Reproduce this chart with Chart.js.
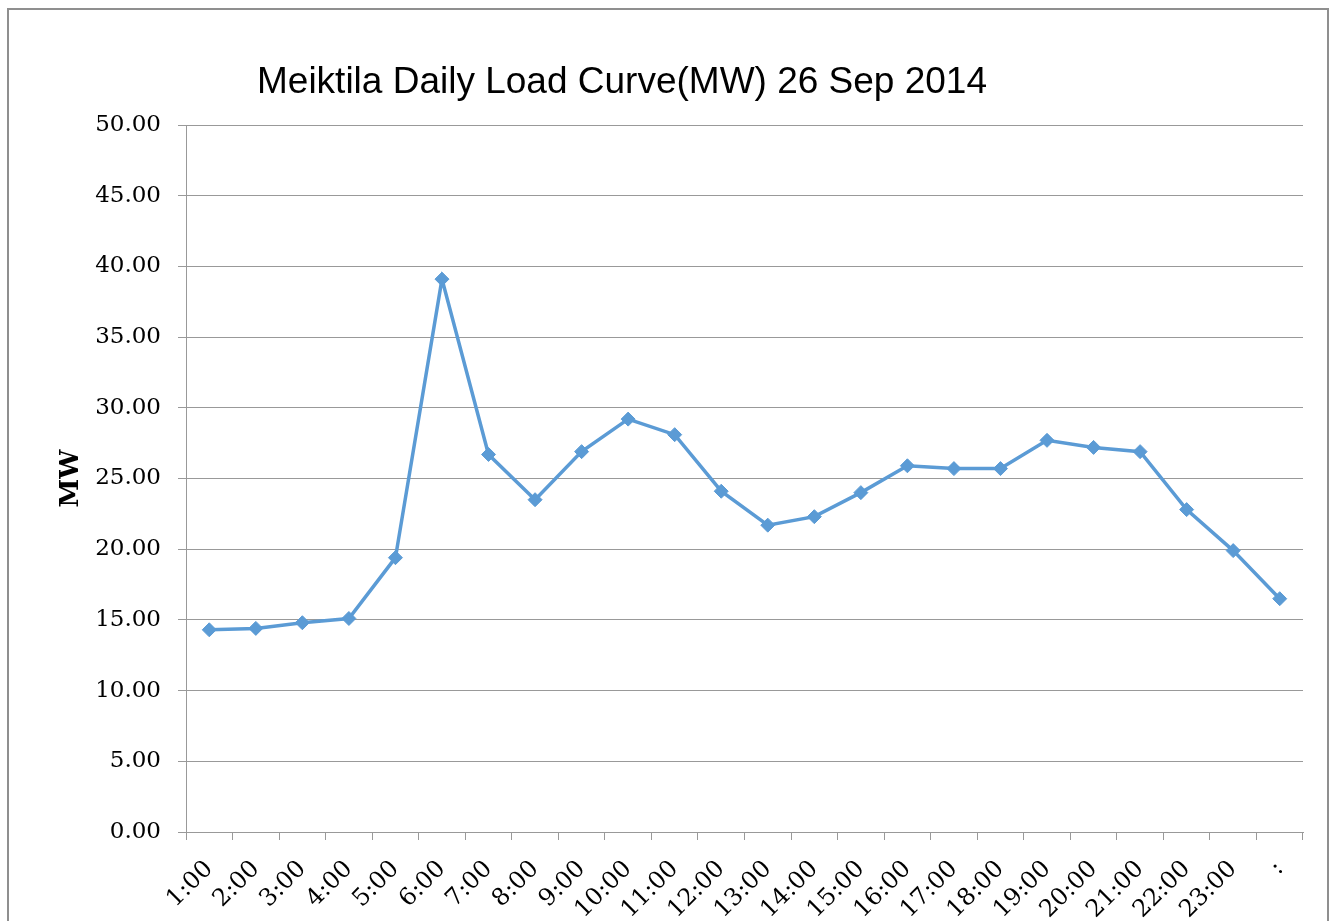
<!DOCTYPE html>
<html>
<head>
<meta charset="utf-8">
<script src="https://cdn.jsdelivr.net/npm/chart.js@4"></script>
<style>
  html, body { margin: 0; padding: 0; background: #fff; overflow: hidden; }
  #wrap { position: relative; width: 1333px; height: 921px; }
  #frame { position: absolute; left: 7px; top: 8px; width: 1322px; height: 940px; border: 2px solid #8f8f8f; box-sizing: border-box; }
  #loadChart { position: absolute; left: 0; top: 0; }
</style>
</head>
<body>
<div id="wrap">
  <div id="frame"></div>
  <canvas id="loadChart" width="1333" height="921"></canvas>
</div>
<script>
const hours = ['1:00', '2:00', '3:00', '4:00', '5:00', '6:00', '7:00', '8:00', '9:00', '10:00', '11:00', '12:00',
    '13:00', '14:00', '15:00', '16:00', '17:00', '18:00', '19:00', '20:00', '21:00', '22:00', '23:00', ':'];
const loadMW = [14.3, 14.4, 14.8, 15.1, 19.4, 39.1, 26.7, 23.5, 26.9, 29.2, 28.1, 24.1,
    21.7, 22.3, 24.0, 25.9, 25.7, 25.7, 27.7, 27.2, 26.9, 22.8, 19.9, 16.5];
const yTicks = [0, 5, 10, 15, 20, 25, 30, 35, 40, 45, 50];

const titleText = 'Meiktila Daily Load Curve(MW) 26 Sep 2014';
const lineColor = '#5b9bd5';
const gridColor = '#999999';
const serif = '"DejaVu Serif", "Liberation Serif", serif';

// title sits left of the plot centre, so draw it ourselves
const titlePlugin = {
    id: 'offsetTitle',
    afterDraw(chart) {
        const c = chart.ctx;
        c.save();
        c.fillStyle = '#000';
        c.font = '37px "Liberation Sans", Arial, sans-serif';
        c.textAlign = 'left';
        c.textBaseline = 'alphabetic';
        c.fillText(titleText, 257, 93);
        c.restore();
    },
};

const ctx = document.getElementById('loadChart').getContext('2d');
const loadChart = new Chart(ctx, {
    type: 'line',
    data: {
        labels: hours,
        datasets: [
            {
                label: 'MW',
                data: loadMW,
                borderColor: lineColor,
                backgroundColor: lineColor,
                borderWidth: 3.5,
                pointStyle: 'rectRot',
                pointRadius: 7,
                pointBorderWidth: 1,
                pointBackgroundColor: lineColor,
                pointBorderColor: lineColor,
                tension: 0,
                fill: false,
            },
        ],
    },
    options: {
        responsive: false,
        animation: false,
        devicePixelRatio: 1,
        layout: {
            padding: { left: 50, right: 30, top: 125, bottom: 0 },
        },
        scales: {
            x: {
                offset: true,
                afterFit(scale) { scale.height = 89; },
                grid: {
                    offset: true,
                    drawOnChartArea: false,
                    drawTicks: true,
                    tickLength: 8,
                    color: gridColor,
                },
                border: { color: gridColor, width: 1 },
                ticks: {
                    autoSkip: false,
                    maxRotation: 45,
                    minRotation: 45,
                    padding: 15,
                    color: '#000',
                    font: { family: serif, size: 24 },
                },
            },
            y: {
                min: 0,
                max: 50,
                afterFit(scale) { scale.width = 136; },
                afterBuildTicks(scale) { scale.ticks = yTicks.map(v => ({ value: v })); },
                grid: {
                    color: gridColor,
                    tickLength: 8,
                },
                border: { color: gridColor, width: 1 },
                ticks: {
                    padding: 17,
                    color: '#000',
                    font: { family: serif, size: 23 },
                    callback: v => Number(v).toFixed(2),
                },
                title: {
                    display: true,
                    text: 'MW',
                    color: '#000',
                    padding: { top: 6, bottom: 0 },
                    font: { family: serif, size: 26, weight: 'bold' },
                },
            },
        },
        plugins: {
            legend: { display: false },
            title: { display: false },
            tooltip: { enabled: false },
        },
    },
    plugins: [titlePlugin],
});
</script>
</body>
</html>
